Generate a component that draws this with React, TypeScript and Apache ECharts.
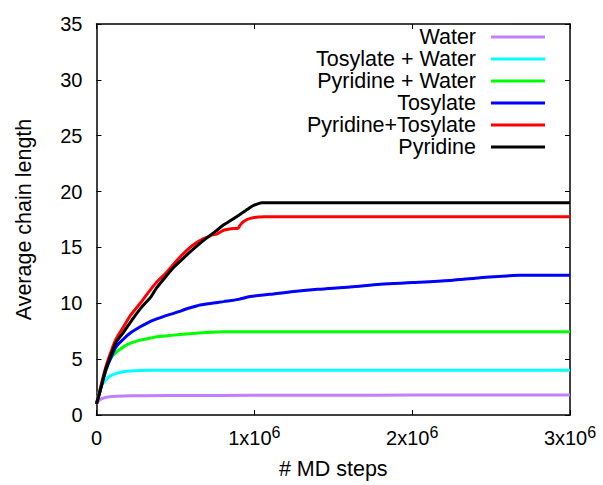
import React, { useEffect, useRef } from "react";
import * as echarts from "echarts";

// Simulation steps (in millions) and average chain length for each system
const waterSteps = [0, 0.01, 0.023, 0.04, 0.066, 0.1, 0.17, 0.3, 0.6, 1.0, 1.5, 2.0, 2.5, 3.0];
const waterLen = [1, 1.2, 1.38, 1.5, 1.6, 1.66, 1.7, 1.73, 1.75, 1.76, 1.77, 1.78, 1.79, 1.8];

const tosWaterSteps = [0, 0.01, 0.023, 0.04, 0.066, 0.087, 0.13, 0.17, 0.215, 0.28, 0.34, 1.0, 2.0, 3.0];
const tosWaterLen = [1, 1.7, 2.3, 2.8, 3.25, 3.5, 3.75, 3.87, 3.94, 3.98, 4.0, 4.0, 4.0, 4.0];

const pyrWaterSteps = [0, 0.02, 0.04, 0.061, 0.087, 0.124, 0.171, 0.22, 0.277, 0.33, 0.382, 0.488, 0.593, 0.7, 0.804, 1.0, 2.0, 3.0];
const pyrWaterLen = [1, 2.0, 3.1, 4.0, 5.0, 5.6, 6.1, 6.45, 6.7, 6.85, 7.0, 7.15, 7.28, 7.38, 7.45, 7.45, 7.45, 7.45];

const tosSteps = [0, 0.02, 0.04, 0.061, 0.09, 0.124, 0.171, 0.22, 0.277, 0.33, 0.382, 0.44, 0.488, 0.54, 0.593, 0.657, 0.73, 0.804, 0.9, 0.974, 1.1, 1.25, 1.4, 1.607, 1.8, 2.0, 2.24, 2.4, 2.49, 2.6, 2.68, 3.0];
const tosLen = [1, 2.0, 3.1, 4.1, 5.1, 6.1, 6.8, 7.4, 7.9, 8.3, 8.6, 8.9, 9.1, 9.35, 9.6, 9.85, 10.0, 10.15, 10.35, 10.6, 10.8, 11.05, 11.25, 11.45, 11.7, 11.85, 12.05, 12.25, 12.35, 12.45, 12.5, 12.5];

const pyrTosSteps = [0, 0.02, 0.04, 0.061, 0.09, 0.124, 0.171, 0.22, 0.277, 0.33, 0.382, 0.44, 0.488, 0.54, 0.593, 0.63, 0.667, 0.7, 0.73, 0.762, 0.8, 0.825, 0.87, 0.895, 0.91, 0.93, 0.973, 1.06, 2.0, 3.0];
const pyrTosLen = [1, 2.1, 3.3, 4.4, 5.6, 6.8, 7.9, 9.0, 10.0, 11.0, 11.9, 12.7, 13.5, 14.3, 15.0, 15.4, 15.7, 15.9, 16.1, 16.2, 16.5, 16.6, 16.7, 16.7, 17.0, 17.3, 17.6, 17.75, 17.75, 17.75];

const pyrSteps = [0, 0.02, 0.04, 0.061, 0.09, 0.124, 0.171, 0.22, 0.277, 0.346, 0.382, 0.44, 0.488, 0.54, 0.593, 0.65, 0.699, 0.76, 0.804, 0.86, 0.909, 0.95, 0.994, 1.03, 1.047, 2.0, 3.0];
const pyrLen = [1, 2.0, 3.1, 4.2, 5.3, 6.5, 7.4, 8.4, 9.5, 10.6, 11.4, 12.4, 13.2, 13.9, 14.6, 15.3, 15.85, 16.5, 17.0, 17.5, 17.95, 18.35, 18.75, 18.95, 19.0, 19.0, 19.0];

const seriesNames = ["Water", "Tosylate + Water", "Pyridine + Water", "Tosylate", "Pyridine+Tosylate", "Pyridine"];
const seriesColors = ["#c080ff", "#00ffff", "#00ff00", "#0000ff", "#ff0000", "#000000"];
const seriesSteps = [waterSteps, tosWaterSteps, pyrWaterSteps, tosSteps, pyrTosSteps, pyrSteps];
const seriesLen = [waterLen, tosWaterLen, pyrWaterLen, tosLen, pyrTosLen, pyrLen];

const FONT = "'Liberation Sans', Arial, Helvetica, sans-serif";

export default function App() {
  const ref = useRef<HTMLDivElement>(null);

  useEffect(() => {
    if (!ref.current) return;
    const chart = echarts.init(ref.current, null, { renderer: "svg" });

    const tick = { show: true, inside: true, length: 5, lineStyle: { color: "#000", width: 1 } };
    const axisLine = { show: true, onZero: false, lineStyle: { color: "#000", width: 1.5 } };

    chart.setOption({
      animation: false,
      backgroundColor: "#ffffff",
      textStyle: { fontFamily: FONT, color: "#000" },
      grid: { left: 96.5, right: 33, top: 24, bottom: 65, containLabel: false },
      legend: {
        orient: "vertical",
        align: "right",
        right: 58,
        top: 26,
        padding: 0,
        itemGap: 0,
        itemWidth: 54,
        itemHeight: 3,
        icon: "rect",
        selectedMode: false,
        textStyle: { fontFamily: FONT, fontSize: 21.5, color: "#000", lineHeight: 21.3, padding: [0, 10, 0, 0] },
        data: seriesNames,
      },
      xAxis: [
        {
          type: "value",
          min: 0,
          max: 3e6,
          interval: 1e6,
          position: "bottom",
          name: "# MD steps",
          nameLocation: "middle",
          nameGap: 43,
          nameTextStyle: { fontFamily: FONT, fontSize: 21.5, color: "#000" },
          axisLine,
          axisTick: tick,
          splitLine: { show: false },
          axisLabel: {
            margin: 9,
            fontFamily: FONT,
            fontSize: 20,
            color: "#000",
            lineHeight: 27,
            formatter: (v: number) => (v === 0 ? "0" : `{m|${v / 1e6}x10}{e|6}`),
            rich: {
              m: { fontFamily: FONT, fontSize: 20, color: "#000", lineHeight: 27, verticalAlign: "middle" },
              e: { fontFamily: FONT, fontSize: 16, color: "#000", verticalAlign: "top" },
            },
          },
        },
        {
          type: "value",
          min: 0,
          max: 3e6,
          interval: 1e6,
          position: "top",
          axisLine,
          axisTick: tick,
          axisLabel: { show: false },
          splitLine: { show: false },
        },
      ],
      yAxis: [
        {
          type: "value",
          min: 0,
          max: 35,
          interval: 5,
          position: "left",
          name: "Average chain length",
          nameLocation: "middle",
          nameGap: 61.5,
          nameTextStyle: { fontFamily: FONT, fontSize: 21.5, color: "#000" },
          axisLine,
          axisTick: tick,
          splitLine: { show: false },
          axisLabel: { margin: 14, fontFamily: FONT, fontSize: 20, color: "#000" },
        },
        {
          type: "value",
          min: 0,
          max: 35,
          interval: 5,
          position: "right",
          axisLine,
          axisTick: tick,
          axisLabel: { show: false },
          splitLine: { show: false },
        },
      ],
      series: seriesNames.map((name, i) => ({
        name,
        type: "line",
        xAxisIndex: 0,
        yAxisIndex: 0,
        showSymbol: false,
        symbol: "none",
        smooth: 0.3,
        color: seriesColors[i],
        lineStyle: { color: seriesColors[i], width: 3 },
        data: seriesSteps[i].map((s, j) => [s * 1e6, seriesLen[i][j]]),
      })),
    });

    return () => chart.dispose();
  }, []);

  return (
    <div
      ref={ref}
      style={{ position: "fixed", left: 0, top: 0, width: 603, height: 485, background: "#fff" }}
    />
  );
}
